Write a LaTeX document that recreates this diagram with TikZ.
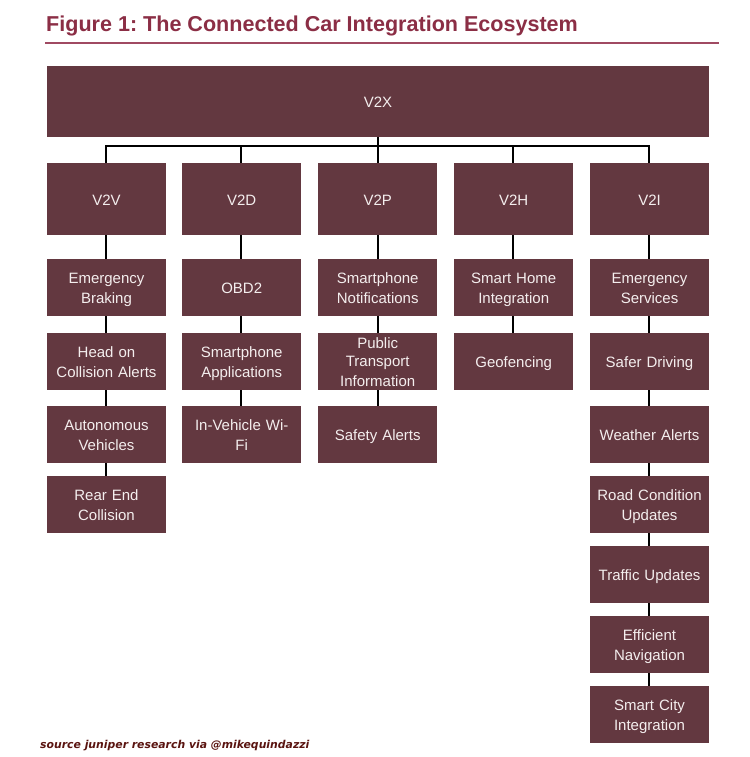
\documentclass[tikz,border=0pt]{standalone}
\usepackage{fontspec}
\setmainfont{Liberation Sans}
\newfontfamily\srcfont{DejaVu Sans}
\definecolor{boxc}{HTML}{633840}
\definecolor{titlec}{HTML}{8B2E45}
\definecolor{rulec}{HTML}{A04A62}
\definecolor{srcc}{HTML}{5A1410}
\definecolor{labelc}{HTML}{F4EEEE}
\newcommand{\tstrut}{\vrule height 15.3pt depth 3.3pt width 0pt\relax}
\frenchspacing
\tikzset{
  bx/.style={draw=none,fill=boxc,text=labelc,font=\fontsize{15}{18.3}\selectfont,align=center,inner sep=0pt,minimum width=119.5pt,text width=114pt,execute at begin node=\tstrut,execute at end node=\tstrut},
  top/.style={bx,minimum height=72pt},
  item/.style={bx,minimum height=57pt},
  link/.style={draw=black,line width=1.6pt}
}
\begin{document}
\begin{tikzpicture}[x=1pt,y=-1pt]
\useasboundingbox (0,0) rectangle (749,757);
\fill[white] (0,0) rectangle (749,757);
\node[anchor=base west,inner sep=0pt,text=titlec,font=\fontsize{21.55}{24}\selectfont\bfseries] (title) at (46,32) {\frenchspacing Figure 1: The Connected Car Integration Ecosystem};
\coordinate (ruleL) at (45,43.3);
\coordinate (ruleR) at (719,43.3);
\draw[rulec,line width=2pt] (ruleL) -- (ruleR);
\node[bx,minimum width=662pt,text width=600pt,minimum height=71pt] (v2x) at (378,101.5) {V2X};
\node[top] (v2v) at (106.5,199) {V2V};
\node[top] (v2d) at (241.7,199) {V2D};
\node[top] (v2p) at (377.7,199) {V2P};
\node[top] (v2h) at (513.7,199) {V2H};
\node[top] (v2i) at (649.5,199) {V2I};
% V2V
\node[item] (a1) at (106.5,287.5) {Emergency\\Braking};
\node[item] (a2) at (106.5,361.5) {Head on\\Collision Alerts};
\node[item] (a3) at (106.5,434.5) {Autonomous\\Vehicles};
\node[item] (a4) at (106.5,504.5) {Rear End\\Collision};
% V2D
\node[item] (b1) at (241.7,287.5) {OBD2};
\node[item] (b2) at (241.7,361.5) {Smartphone\\Applications};
\node[item] (b3) at (241.7,434.5) {In-Vehicle Wi-\\Fi};
% V2P
\node[item] (c1) at (377.7,287.5) {Smartphone\\Notifications};
\node[item] (c2) at (377.7,361.5) {Public\\Transport\\Information};
\node[item] (c3) at (377.7,434.5) {Safety Alerts};
% V2H
\node[item] (d1) at (513.7,287.5) {Smart Home\\Integration};
\node[item] (d2) at (513.7,361.5) {Geofencing};
% V2I
\node[item] (e1) at (649.5,287.5) {Emergency\\Services};
\node[item] (e2) at (649.5,361.5) {Safer Driving};
\node[item] (e3) at (649.5,434.5) {Weather Alerts};
\node[item] (e4) at (649.5,504.5) {Road Condition\\Updates};
\node[item] (e5) at (649.5,574.5) {Traffic Updates};
\node[item] (e6) at (649.5,644.5) {Efficient\\Navigation};
\node[item] (e7) at (649.5,714.5) {Smart City\\Integration};
\coordinate (cxa) at (106,0);
\coordinate (cxb) at (241,0);
\coordinate (cxc) at (378,0);
\coordinate (cxd) at (513,0);
\coordinate (cxe) at (649,0);
\coordinate (bus) at (378,146);
\draw[link] (v2x.south -| cxc) -- (bus);
\draw[link] (v2v.north -| cxa) |- (bus);
\draw[link] (v2d.north -| cxb) |- (bus);
\draw[link] (v2p.north -| cxc) |- (bus);
\draw[link] (v2h.north -| cxd) |- (bus);
\draw[link] (v2i.north -| cxe) |- (bus);
\foreach \c/\p/\q in {a/v2v/a1,a/a1/a2,a/a2/a3,a/a3/a4,b/v2d/b1,b/b1/b2,b/b2/b3,c/v2p/c1,c/c1/c2,c/c2/c3,d/v2h/d1,d/d1/d2,e/v2i/e1,e/e1/e2,e/e2/e3,e/e3/e4,e/e4/e5,e/e5/e6,e/e6/e7}{
  \draw[link] (\p.south -| cx\c) -- (\q.north -| cx\c);
}
\node[anchor=base west,inner sep=0pt,text=srcc,font=\fontsize{10.85}{13}\srcfont\bfseries\itshape] (src) at (40,748) {source juniper research via @mikequindazzi};
\end{tikzpicture}
\end{document}
